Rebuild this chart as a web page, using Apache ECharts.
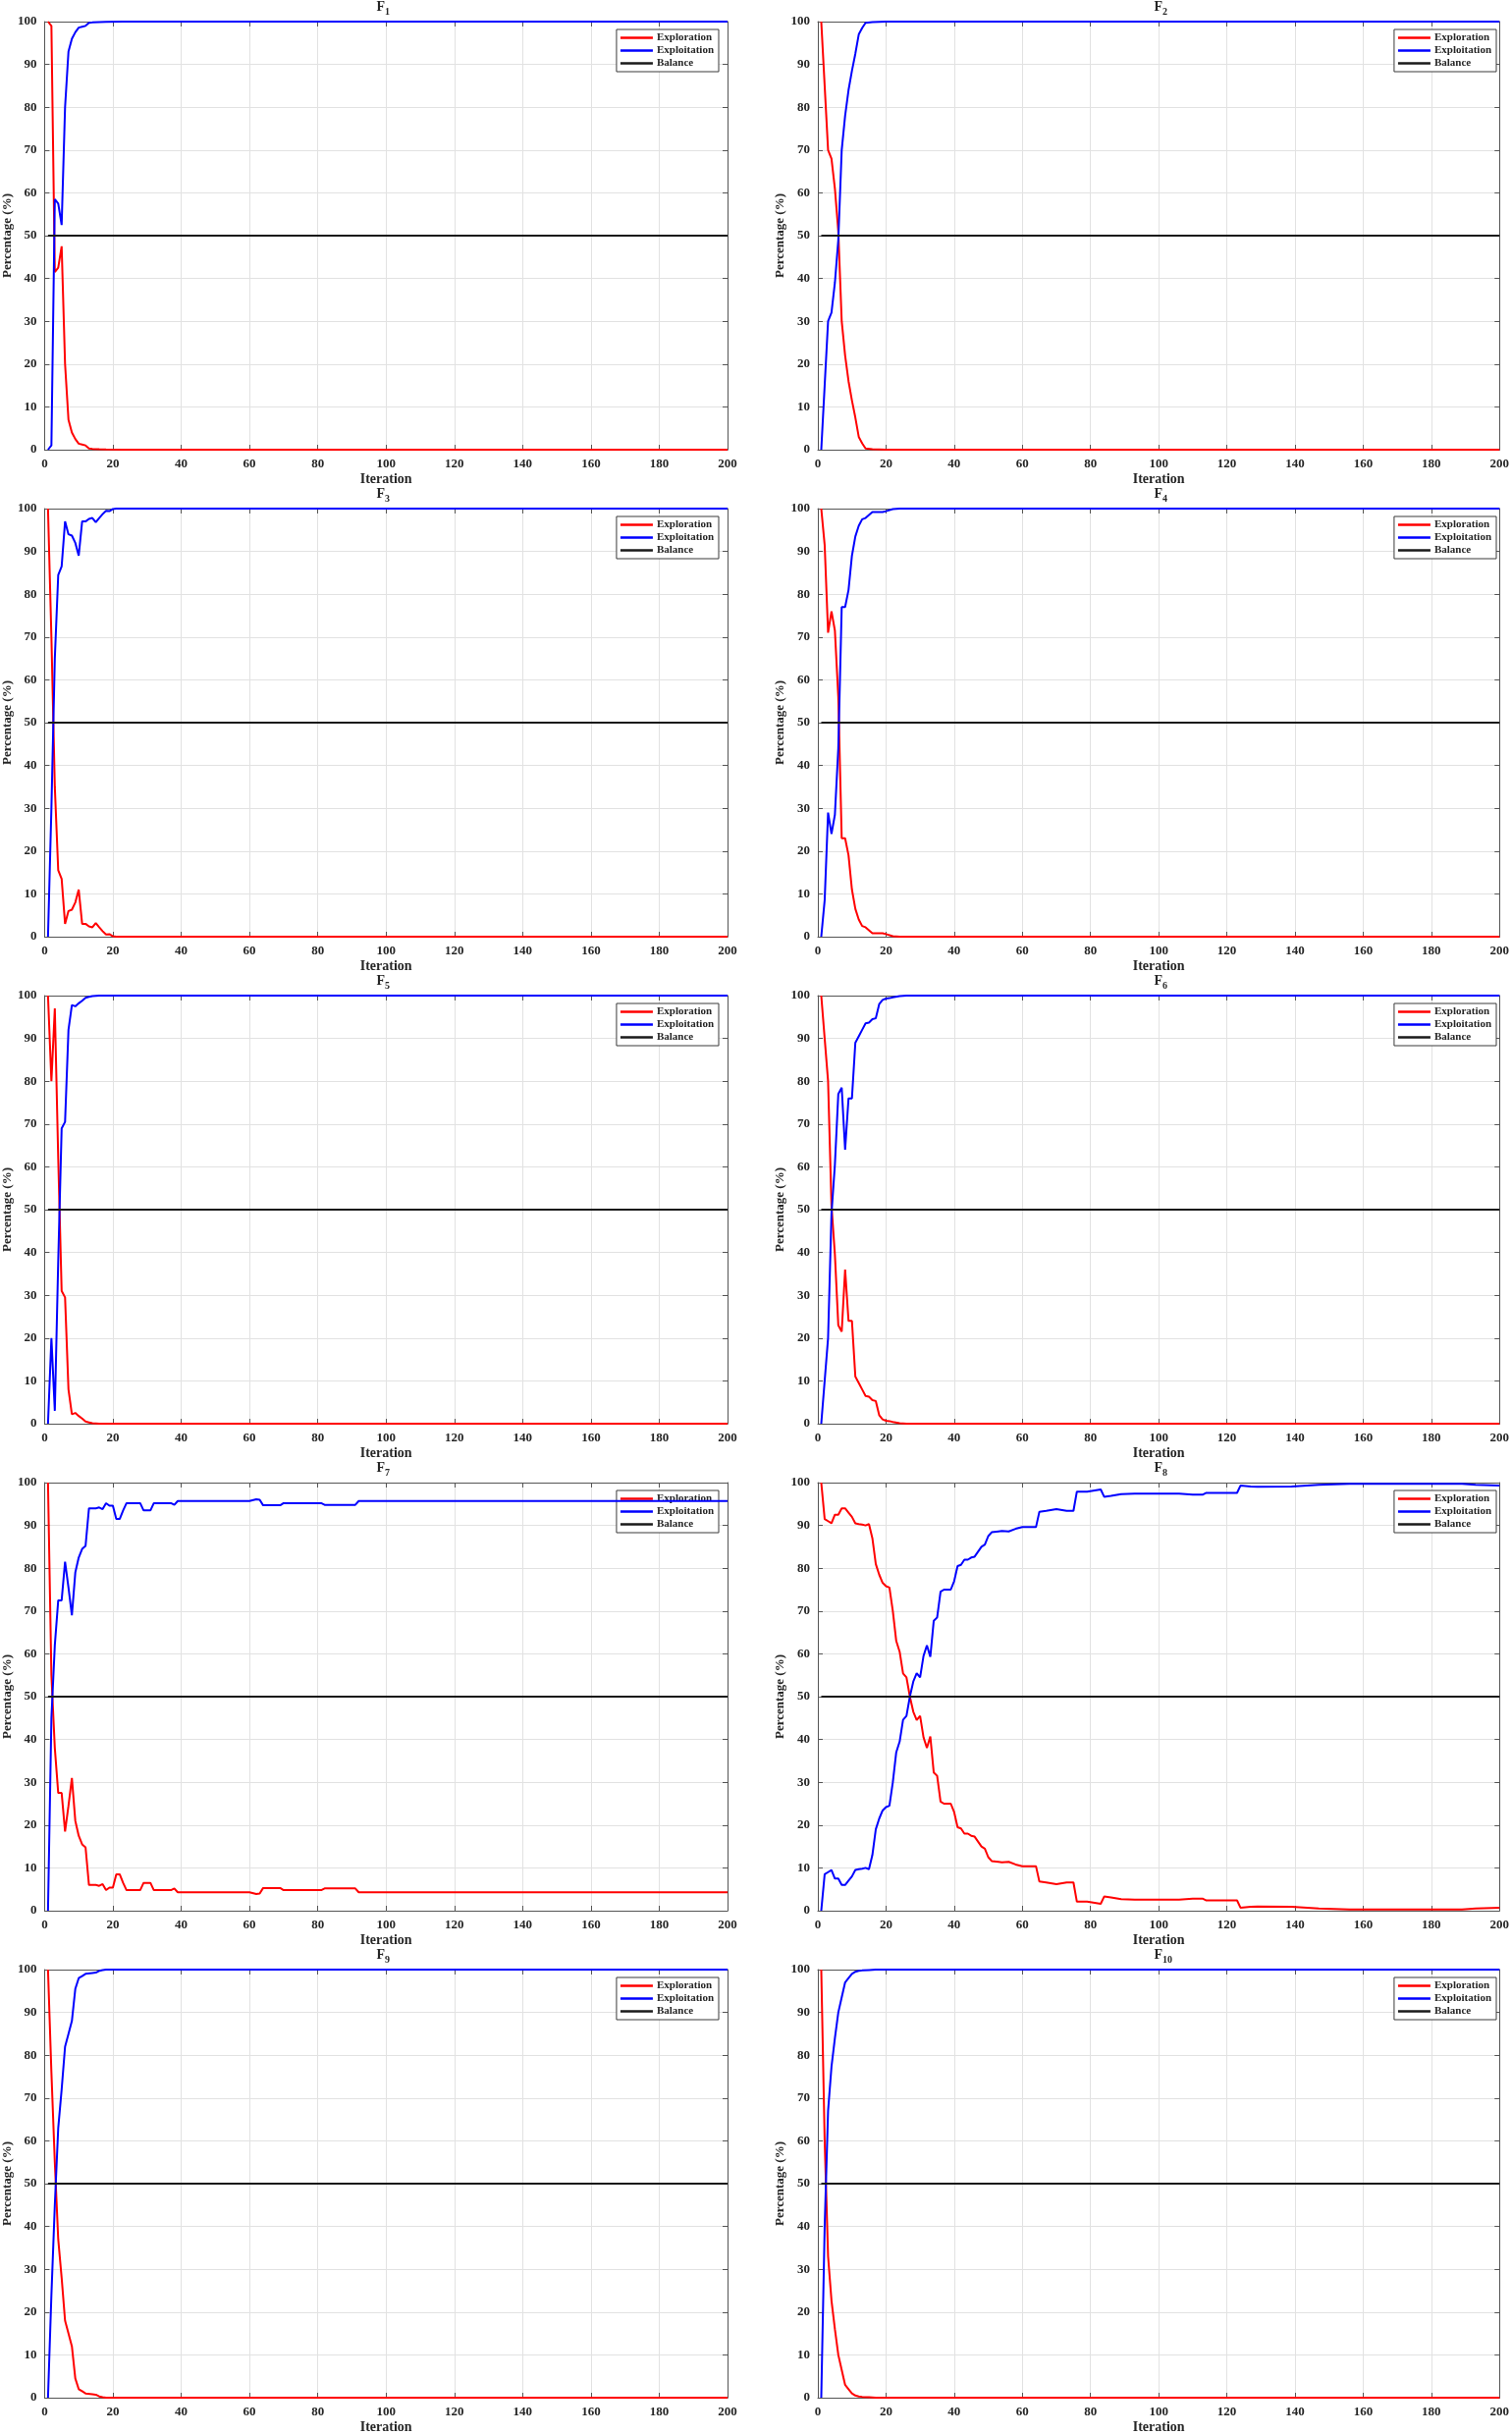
<!DOCTYPE html>
<html>
<head>
<meta charset="utf-8">
<script src="https://cdn.jsdelivr.net/npm/echarts@6/dist/echarts.min.js"></script>
<style>
html,body{margin:0;padding:0;background:#fff;}
#c{width:1540px;height:2480px;}
</style>
</head>
<body>
<div id="c"></div>
<script>
// ---------------- data ----------------
const seriesNames = ['Exploration', 'Exploitation', 'Balance'];
const panelTitles = ['1','2','3','4','5','6','7','8','9','10'];
const xTicks = [0,20,40,60,80,100,120,140,160,180,200];
const yTicks = [0,10,20,30,40,50,60,70,80,90,100];

const balanceIter = [1, 200];
const balanceValue = [50, 50];

const f1Iter     = [1,2,3,4,5,6,7,8,9,10,11,12,13,14,16,18,23,200];
const f1Explor   = [100,99,41.5,42.5,47.5,20,7,4,2.5,1.4,1.2,1,0.3,0.2,0.1,0.05,0,0];
const f1Exploit  = [0,1,58.5,57.5,52.5,80,93,96,97.5,98.6,98.8,99,99.7,99.8,99.9,99.95,100,100];

const f2Iter     = [1,2,3,4,5,6,7,8,9,10,11,12,13,14,16,20,200];
const f2Explor   = [100,85,70,68,61,51,30,22,16,11.5,7.5,3,1.5,0.3,0.1,0,0];
const f2Exploit  = [0,15,30,32,39,49,70,78,84,88.5,92.5,97,98.5,99.7,99.9,100,100];

const f3Iter     = [1,2,3,4,5,6,7,8,9,10,11,12,13,14,15,16,17,18,19,20,21,200];
const f3Explor   = [100,70,35,15.5,13.5,3,6,6.3,8,11,3,3,2.4,2.2,3.2,2.2,1.3,0.5,0.6,0.1,0,0];
const f3Exploit  = [0,30,65,84.5,86.5,97,94,93.7,92,89,97,97,97.6,97.8,96.8,97.8,98.7,99.5,99.4,99.9,100,100];

const f4Iter     = [1,2,3,4,5,6,7,8,9,10,11,12,13,14,15,16,19,20,22,24,200];
const f4Explor   = [100,91.5,71,76,71.5,56,23,23,19,11,6.5,4,2.5,2.2,1.5,0.8,0.8,0.6,0.1,0,0];
const f4Exploit  = [0,8.5,29,24,28.5,44,77,77,81,89,93.5,96,97.5,97.8,98.5,99.2,99.2,99.4,99.9,100,100];

const f5Iter     = [1,2,3,4,5,6,7,8,9,10,11,12,13,14,16,200];
const f5Explor   = [100,80,97,62,31,29.5,8,2.2,2.5,1.8,1.2,0.5,0.3,0.1,0,0];
const f5Exploit  = [0,20,3,38,69,70.5,92,97.8,97.5,98.2,98.8,99.5,99.7,99.9,100,100];

const f6Iter     = [1,2,3,4,5,6,7,8,9,10,11,12,13,14,15,16,17,18,19,20,21,22,24,26,200];
const f6Explor   = [100,90,80,51,39.5,23,21.5,36,24,24,11,9.5,8,6.5,6.3,5.5,5.3,2,1,0.7,0.6,0.4,0.1,0,0];
const f6Exploit  = [0,10,20,49,60.5,77,78.5,64,76,76,89,90.5,92,93.5,93.7,94.5,94.7,98,99,99.3,99.4,99.6,99.9,100,100];

const f7Iter     = [1,2,3,4,5,6,7,8,9,10,11,12,13,15,16,17,18,19,20,21,22,23,24,28,29,31,32,37,38,39,60,62,63,64,69,70,81,82,91,92,200];
const f7Explor   = [100,55,38,27.5,27.5,18.5,24.5,31,21,17.5,15.5,14.8,6,6,5.8,6.2,4.8,5.4,5.4,8.5,8.5,6.5,4.8,4.8,6.5,6.5,4.8,4.8,5.2,4.3,4.3,3.9,4,5.3,5.3,4.8,4.8,5.2,5.2,4.3,4.3];
const f7Exploit  = [0,45,62,72.5,72.5,81.5,75.5,69,79,82.5,84.5,85.2,94,94,94.2,93.8,95.2,94.6,94.6,91.5,91.5,93.5,95.2,95.2,93.5,93.5,95.2,95.2,94.8,95.7,95.7,96.1,96,94.7,94.7,95.2,95.2,94.8,94.8,95.7,95.7];

const f8Iter     = [1,2,3,4,5,6,7,8,9,10,11,12,13,14,15,16,17,18,19,20,21,22,23,24,25,26,27,28,29,30,31,32,33,34,35,36,37,39,40,41,42,43,44,45,46,48,49,50,51,53,54,56,58,60,64,65,67,70,73,75,76,79,83,84,86,89,93,106,110,113,114,123,124,127,129,139,147,156,189,193,200];
const f8Explor   = [100,91.5,91,90.5,92.5,92.5,94,94,93,92,90.5,90.3,90.2,90,90.3,87,81,78.5,76.6,75.8,75.5,70,63,60.5,55.4,54.5,50,46.5,44.5,45.5,40.5,38,40.7,32.3,31.5,25.5,25,25,23,19.5,19.2,18,18,17.5,17.3,15,14.5,12.5,11.6,11.4,11.3,11.4,10.8,10.4,10.4,6.8,6.6,6.2,6.6,6.6,2.1,2.1,1.6,3.3,3.1,2.7,2.6,2.6,2.8,2.8,2.4,2.4,0.7,0.9,1.0,0.9,0.5,0.3,0.3,0.5,0.7];
const f8Exploit  = [0,8.5,9,9.5,7.5,7.5,6,6,7,8,9.5,9.7,9.8,10,9.7,13,19,21.5,23.4,24.2,24.5,30,37,39.5,44.6,45.5,50,53.5,55.5,54.5,59.5,62,59.3,67.7,68.5,74.5,75,75,77,80.5,80.8,82,82,82.5,82.7,85,85.5,87.5,88.4,88.6,88.7,88.6,89.2,89.6,89.6,93.2,93.4,93.8,93.4,93.4,97.9,97.9,98.4,96.7,96.9,97.3,97.4,97.4,97.2,97.2,97.6,97.6,99.3,99.1,99,99.1,99.5,99.7,99.7,99.5,99.3];

const f9Iter     = [1,2,3,4,5,6,7,8,9,10,11,12,14,15,16,17,18,200];
const f9Explor   = [100,76,55,37,28,18,15,12,4.5,2,1.5,1,0.8,0.7,0.3,0.1,0,0];
const f9Exploit  = [0,24,45,63,72,82,85,88,95.5,98,98.5,99,99.2,99.3,99.7,99.9,100,100];

const f10Iter    = [1,2,3,4,5,6,7,8,9,10,11,12,13,15,17,200];
const f10Explor  = [100,60,33,22.7,16,10,6.5,3,2,1,0.5,0.3,0.2,0.1,0,0];
const f10Exploit = [0,40,67,77.3,84,90,93.5,97,98,99,99.5,99.7,99.8,99.9,100,100];

const panels = [
  [f1Iter, f1Explor, f1Exploit], [f2Iter, f2Explor, f2Exploit],
  [f3Iter, f3Explor, f3Exploit], [f4Iter, f4Explor, f4Exploit],
  [f5Iter, f5Explor, f5Exploit], [f6Iter, f6Explor, f6Exploit],
  [f7Iter, f7Explor, f7Exploit], [f8Iter, f8Explor, f8Exploit],
  [f9Iter, f9Explor, f9Exploit], [f10Iter, f10Explor, f10Exploit]
];

// ---------------- layout & style ----------------
const FONT = "'Liberation Serif','Times New Roman',serif";
const TXT = '#262626';
const AX = '#555555';
const GRIDC = '#e2e2e2';
const colLeft = [41, 833];
const plotW = 700, plotH = 436, rowStep = 496, top0 = 22;
const CHART_W = 1540;

const grid = [], xAxis = [], yAxis = [], series = [], legend = [], graphic = [];
const pair = (xs, ys) => xs.map((x, k) => [x, ys[k]]);

panels.forEach((p, i) => {
  const left = colLeft[i % 2];
  const top = top0 + rowStep * Math.floor(i / 2);
  grid.push({left: left, top: top, width: plotW, height: plotH, containLabel: false});

  const axLine = {show: true, onZero: false, lineStyle: {color: AX, width: 1}};
  const axTick = {show: true, inside: true, length: 5, lineStyle: {color: AX, width: 1}};
  const lbl = {color: TXT, fontFamily: FONT, fontWeight: 'bold', fontSize: 13, showMinLabel: true, showMaxLabel: true};

  xAxis.push({
    gridIndex: i, type: 'value', min: xTicks[0], max: xTicks[xTicks.length - 1], interval: xTicks[1] - xTicks[0],
    position: 'bottom', axisLine: axLine, axisTick: axTick,
    axisLabel: Object.assign({margin: 8}, lbl),
    splitLine: {show: true, lineStyle: {color: GRIDC, width: 1}},
    name: 'Iteration', nameLocation: 'middle', nameGap: 23,
    nameTextStyle: {color: TXT, fontFamily: FONT, fontWeight: 'bold', fontSize: 14}
  });
  xAxis.push({
    gridIndex: i, type: 'value', min: xTicks[0], max: xTicks[xTicks.length - 1], interval: xTicks[1] - xTicks[0],
    position: 'top', axisLine: axLine, axisTick: axTick, axisLabel: {show: false}, splitLine: {show: false}
  });
  yAxis.push({
    gridIndex: i, type: 'value', min: yTicks[0], max: yTicks[yTicks.length - 1], interval: yTicks[1] - yTicks[0],
    position: 'left', axisLine: axLine, axisTick: axTick,
    axisLabel: Object.assign({margin: 8}, lbl),
    splitLine: {show: true, lineStyle: {color: GRIDC, width: 1}},
    name: 'Percentage (%)', nameLocation: 'middle', nameGap: 28, nameRotate: 90,
    nameTextStyle: {color: TXT, fontFamily: FONT, fontWeight: 'bold', fontSize: 13}
  });
  yAxis.push({
    gridIndex: i, type: 'value', min: yTicks[0], max: yTicks[yTicks.length - 1], interval: yTicks[1] - yTicks[0],
    position: 'right', axisLine: axLine, axisTick: axTick, axisLabel: {show: false}, splitLine: {show: false}
  });

  const [it, ex, ep] = p;
  const common = {type: 'line', xAxisIndex: 2 * i, yAxisIndex: 2 * i, showSymbol: false, symbol: 'none', animation: false, silent: true};
  series.push(Object.assign({name: seriesNames[0], data: pair(it, ex), color: '#ff0000', lineStyle: {width: 2, color: '#ff0000'}, z: 3}, common));
  series.push(Object.assign({name: seriesNames[1], data: pair(it, ep), color: '#0000ff', lineStyle: {width: 2, color: '#0000ff'}, z: 4}, common));
  series.push(Object.assign({name: seriesNames[2], data: pair(balanceIter, balanceValue), color: '#1a1a1a', lineStyle: {width: 2, color: '#1a1a1a'}, z: 5}, common));

  legend.push({
    data: seriesNames, orient: 'vertical',
    right: CHART_W - (left + plotW) + 9, top: top + 8,
    icon: 'rect', itemWidth: 33, itemHeight: 2.5, itemGap: 2,
    backgroundColor: '#ffffff', borderColor: '#3a3a3a', borderWidth: 1, borderRadius: 0,
    padding: [3, 5, 3, 4], selectedMode: false,
    textStyle: {color: TXT, fontFamily: FONT, fontWeight: 'bold', fontSize: 11, padding: [0, 0, 0, -1]}
  });

  const cx = left + plotW / 2;
  graphic.push({type: 'text', x: cx + 1, y: top - 15, silent: true,
    style: {text: 'F', fill: TXT, font: 'bold 14px ' + FONT, textAlign: 'right', textVerticalAlign: 'middle'}});
  graphic.push({type: 'text', x: cx + 1, y: top - 10, silent: true,
    style: {text: panelTitles[i], fill: TXT, font: 'bold 10px ' + FONT, textAlign: 'left', textVerticalAlign: 'middle'}});
});

const chart = echarts.init(document.getElementById('c'), null, {renderer: 'canvas', width: 1540, height: 2480});
chart.setOption({
  animation: false,
  backgroundColor: '#ffffff',
  grid: grid, xAxis: xAxis, yAxis: yAxis, series: series, legend: legend, graphic: graphic
});
</script>
</body>
</html>
